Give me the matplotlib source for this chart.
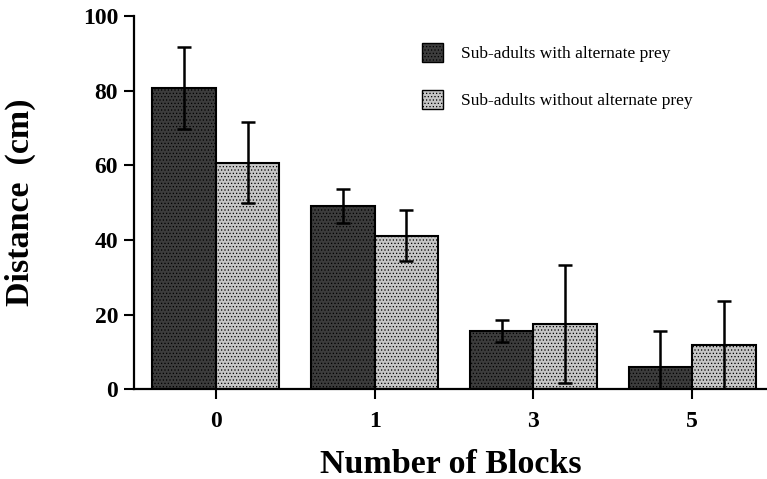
import numpy as np
from matplotlib import pyplot as plt
from matplotlib.patches import Patch

# mean distance travelled (cm) and error for each group
blocks = ['0', '1', '3', '5']
with_prey = [80.6, 49.1, 15.6, 5.9]
with_prey_err = [11.0, 4.5, 3.0, 9.8]
without_prey = [60.7, 41.1, 17.5, 11.8]
without_prey_err = [10.9, 6.8, 15.7, 11.9]

serif = 'Liberation Serif'
dark = '#3c3c3c'
light = '#c6c6c6'

plt.rcParams['hatch.linewidth'] = 0.5

fig = plt.figure(figsize=(7.67, 4.79), dpi=100)
ax = fig.add_axes([0.1747, 0.187, 0.825, 0.780])

x = np.arange(len(blocks))
w = 0.40

ax.bar(x - w/2, with_prey, w, color=dark, edgecolor='black', linewidth=1.5,
       hatch='.....', zorder=2)
ax.bar(x + w/2, without_prey, w, color=light, edgecolor='black', linewidth=1.5,
       hatch='.....', zorder=2)

ax.errorbar(x - w/2, with_prey, yerr=with_prey_err, fmt='none', ecolor='black',
            elinewidth=1.8, capsize=5, capthick=1.8, zorder=3)
ax.errorbar(x + w/2, without_prey, yerr=without_prey_err, fmt='none', ecolor='black',
            elinewidth=1.8, capsize=5, capthick=1.8, zorder=3)

ax.set_xlim(-0.516, 3.47)
ax.set_ylim(0, 100)
ax.set_xticks(x)
ax.set_xticklabels(blocks)
ax.set_yticks([0, 20, 40, 60, 80, 100])

for side in ['top', 'right']:
    ax.spines[side].set_visible(False)
for side in ['left', 'bottom']:
    ax.spines[side].set_linewidth(1.6)
ax.tick_params(axis='both', length=7.5, width=1.5, labelsize=17)
ax.tick_params(axis='x', pad=8)
ax.tick_params(axis='y', pad=4)
for lab in ax.get_xticklabels() + ax.get_yticklabels():
    lab.set_fontfamily(serif)
    lab.set_fontweight('bold')

ax.set_xlabel('Number of Blocks', fontsize=24.5, fontweight='bold', family=serif)
ax.set_ylabel('Distance  (cm)', fontsize=24.5, fontweight='bold', family=serif)
ax.xaxis.set_label_coords(0.5, -0.16)
ax.yaxis.set_label_coords(-0.155, 0.5)

handles = [Patch(facecolor=dark, edgecolor='black', hatch='.....'),
           Patch(facecolor=light, edgecolor='black', hatch='.....')]
ax.legend(handles, ['Sub-adults with alternate prey', 'Sub-adults without alternate prey'],
          loc='upper left', bbox_to_anchor=(0.43, 0.968), frameon=False,
          prop={'family': serif, 'size': 12.5}, handlelength=1.25, handleheight=1.25,
          labelspacing=1.6, handletextpad=1.0)

fig.savefig('out.png', dpi=100)
